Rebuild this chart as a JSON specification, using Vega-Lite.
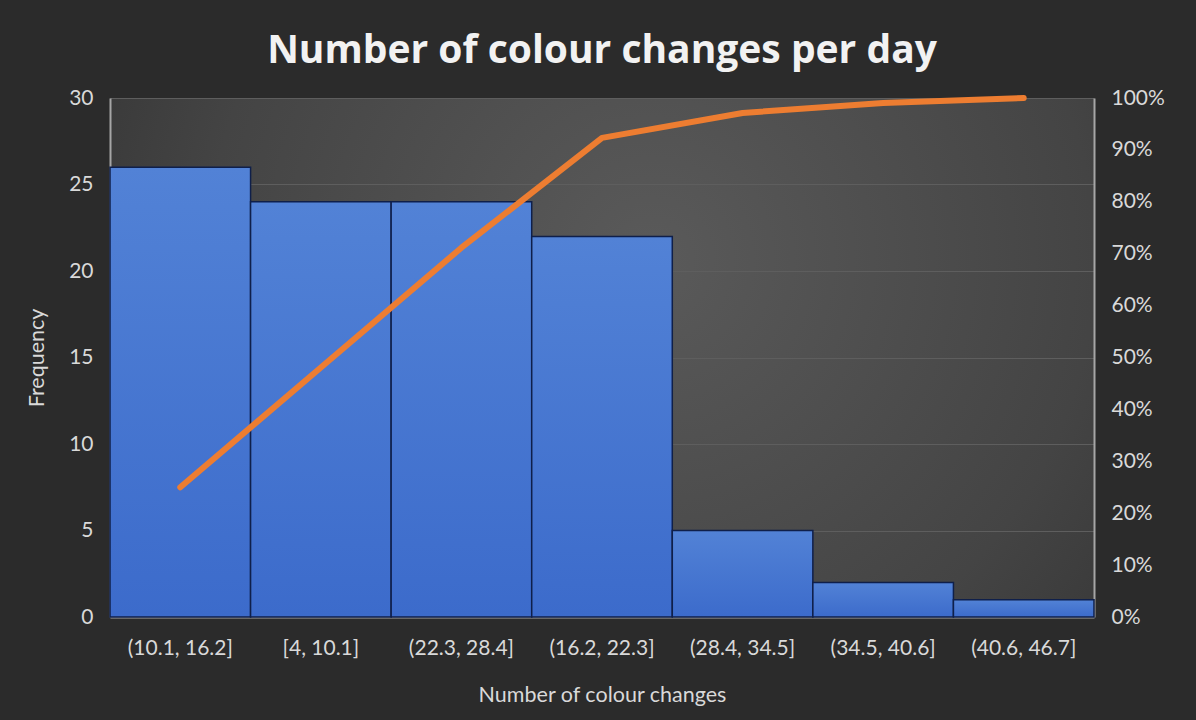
{
  "$schema": "https://vega.github.io/schema/vega-lite/v6.json",
  "autosize": {"type": "none"},
  "width": 984,
  "height": 519,
  "padding": {"left": 110, "top": 98, "right": 102, "bottom": 103},
  "background": "#2b2b2b",
  "title": {
    "text": "Number of colour changes per day",
    "font": "Open Sans",
    "fontSize": 39,
    "fontWeight": "bold",
    "color": "#f2f2f2",
    "anchor": "middle",
    "offset": 16
  },
  "config": {
    "view": {
      "stroke": null,
      "fill": {
        "gradient": "radial",
        "x1": 0.55, "y1": 0.4, "r1": 0,
        "x2": 0.55, "y2": 0.4, "r2": 0.75,
        "stops": [
          {"offset": 0, "color": "#5a5a5a"},
          {"offset": 0.6, "color": "#444444"},
          {"offset": 1, "color": "#2e2e2e"}
        ]
      }
    },
    "axis": {
      "labelFont": "Lato",
      "labelFontSize": 21,
      "labelColor": "#d9d9d9",
      "titleFont": "Lato",
      "titleFontSize": 21.5,
      "titleFontWeight": "normal",
      "titleColor": "#d9d9d9",
      "ticks": false
    }
  },
  "data": {
    "values": [
      {"bin": "(10.1, 16.2]", "freq": 26, "cum": 0.25},
      {"bin": "[4, 10.1]", "freq": 24, "cum": 0.4808},
      {"bin": "(22.3, 28.4]", "freq": 24, "cum": 0.7115},
      {"bin": "(16.2, 22.3]", "freq": 22, "cum": 0.9231},
      {"bin": "(28.4, 34.5]", "freq": 5, "cum": 0.9712},
      {"bin": "(34.5, 40.6]", "freq": 2, "cum": 0.9904},
      {"bin": "(40.6, 46.7]", "freq": 1, "cum": 1.0}
    ]
  },
  "encoding": {
    "x": {
      "field": "bin",
      "type": "nominal",
      "sort": null,
      "scale": {"paddingInner": 0, "paddingOuter": 0},
      "axis": {
        "title": "Number of colour changes",
        "labelAngle": 0,
        "labelPadding": 20,
        "titlePadding": 26,
        "domain": true,
        "domainColor": "#a6a6a6",
        "domainWidth": 2,
        "grid": false
      }
    }
  },
  "layer": [
    {
      "mark": {
        "type": "bar",
        "color": {
          "gradient": "linear",
          "x1": 0, "y1": 0, "x2": 0, "y2": 1,
          "stops": [
            {"offset": 0, "color": "#5282d6"},
            {"offset": 1, "color": "#3c6bcb"}
          ]
        },
        "stroke": "#0f1f4a",
        "strokeWidth": 1.5
      },
      "encoding": {
        "y": {
          "field": "freq",
          "type": "quantitative",
          "scale": {"domain": [0, 30]},
          "axis": {
            "title": "Frequency",
            "values": [0, 5, 10, 15, 20, 25, 30],
            "labelPadding": 17,
            "titlePadding": 20,
            "grid": true,
            "gridColor": "#5e5e5e",
            "gridWidth": 1,
            "domain": true,
            "domainColor": "#a6a6a6",
            "domainWidth": 2
          }
        }
      }
    },
    {
      "mark": {
        "type": "line",
        "color": "#ED7D31",
        "strokeWidth": 6,
        "strokeCap": "round",
        "strokeJoin": "round"
      },
      "encoding": {
        "y": {
          "field": "cum",
          "type": "quantitative",
          "scale": {"domain": [0, 1]},
          "axis": {
            "orient": "right",
            "title": null,
            "format": ".0%",
            "values": [0, 0.1, 0.2, 0.3, 0.4, 0.5, 0.6, 0.7, 0.8, 0.9, 1.0],
            "labelPadding": 17,
            "grid": false,
            "domain": true,
            "domainColor": "#a6a6a6",
            "domainWidth": 2
          }
        }
      }
    }
  ],
  "resolve": {"scale": {"y": "independent"}}
}
